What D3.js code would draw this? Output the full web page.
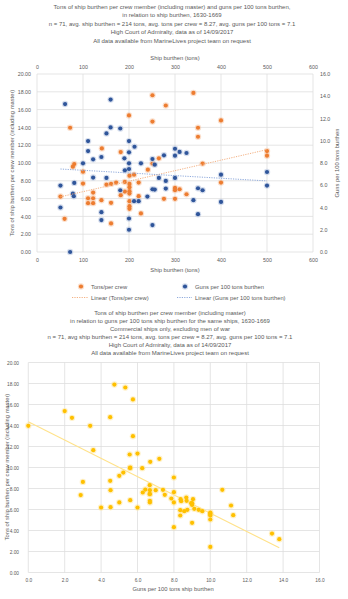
<!DOCTYPE html>
<html><head><meta charset="utf-8">
<script src="https://cdn.jsdelivr.net/npm/d3@7"></script>
<style>body{margin:0;background:#fff}svg{display:block}text{font-family:"Liberation Sans",Arial,sans-serif;fill:#595959}</style>
</head><body><svg id="c" width="348" height="599"></svg>
<script>
// ---------- data ----------
const title1 = ["Tons of ship burthen per crew member (including master) and guns per 100 tons burthen,",
  "in relation to ship burthen, 1630-1669",
  "n = 71, avg. ship burthen = 214 tons, avg. tons per crew = 8.27, avg. guns per 100 tons = 7.1",
  "High Court of Admiralty, data as of 14/09/2017",
  "All data available from MarineLives project team on request"];
const title2 = ["Tons of ship burthen per crew member (including master)",
  "in relation to guns per 100 tons ship burthen for the same ships, 1630-1669",
  "Commercial ships only, excluding men of war",
  "n = 71, avg ship burthen = 214 tons, avg. tons per crew = 8.27, avg. guns per 100 tons = 7.1",
  "High Court of Admiralty, data as of 14/09/2017",
  "All data available from MarineLives project team on request"];
const burthenTicks = [0,100,200,300,400,500,600];
const tonsTicks = [0,2,4,6,8,10,12,14,16,18,20];
const gunsTicks = [0,2,4,6,8,10,12,14,16];
const gunsTicks2 = [0,2,4,6,8,10,12,14,16];

const tonsBurthen = [72,200,251,251,280,141,182,81,78,100,100,51,60,111,111,122,122,122,140,151,161,161,161,172,182,191,191,201,201,201,201,201,201,201,201,211,221,221,226,241,251,265,276,
  340,400,350,350,360,500,500,400,300,300,300,310,325];
const tonsPerCrew = [13.96,15.34,17.61,14.66,16.46,11.64,11.23,9.89,9.59,9.03,7.69,6.23,3.73,6.04,5.49,6.04,5.49,6.68,5.82,7.57,7.65,5.52,3.21,7.8,6.38,7.87,6.79,8.58,7.65,7.28,6.83,6.57,5.71,5.15,4.85,8.69,7.8,6.27,4.33,9.25,9.93,10.52,5.97,
  17.87,14.78,13.96,12.95,9.93,11.34,10.82,7.8,7.2,6.94,5.97,7.05,6.49];

const gunsBurthen = [61,160,160,181,151,111,200,111,212,200,140,122,190,100,200,226,251,256,276,191,200,51,81,122,151,265,280,181,251,256,280,78,80,240,211,221,51,140,140,200,200,251,72,
  300,310,325,300,300,400,500,500,350,360,340,400,350];
const gunsPer100 = [13.3,13.7,11.2,11.1,10.66,9.97,9.97,9.07,9.46,8.96,8.54,8.33,8.42,7.97,7.97,7.97,8.36,7.85,8.69,7.34,7.46,5.97,6.21,6.69,6.66,6.66,6.39,5.55,5.64,5.61,5.7,5.25,5.01,4.98,4.57,4.57,4.0,3.58,2.87,3.01,2.0,2.42,0,
  9.28,9.0,8.9,8.66,6.66,6.95,7.19,5.97,5.73,5.55,4.66,4.5,3.4];

const trendTonsX = [51,500], trendTonsY = [6.2,11.5];
const trendGunsX = [51,500], trendGunsY = [7.46,6.39];

const c2Guns = [0,2.0,2.4,3.4,3.57,3.0,2.88,4.0,4.5,4.73,5.33,5.75,5.75,5.57,6.0,5.59,6.26,6.7,7.2,5.22,5.0,4.5,4.52,4.52,5.0,5.6,6.0,6.29,6.43,6.67,6.68,6.68,6.68,6.68,7.0,7.4,7.5,7.86,8.0,8.0,8.0,8.0,8.37,8.4,8.35,8.35,8.57,8.68,8.7,8.74,8.95,9.0,9.05,9.0,9.12,9.36,9.56,10.0,10.0,10.0,10.0,10.0,10.66,11.14,11.26,13.39,13.79,5.6,9.0,10.0,6.67];
const c2Tons = [13.97,15.37,14.73,13.97,11.65,8.63,7.37,6.19,14.79,17.9,17.62,16.48,12.98,11.24,11.33,9.94,9.94,10.54,10.83,9.52,9.21,8.73,7.84,6.22,6.67,6.89,6.19,7.62,7.9,8.32,7.84,7.46,6.83,6.67,7.84,7.87,7.4,7.05,9.05,7.65,6.67,4.32,6.98,6.79,5.94,5.43,5.84,7.14,6.83,5.97,6.6,6.44,6.98,4.73,6.06,5.97,5.84,5.71,5.56,5.43,5.05,2.44,7.87,6.38,5.46,3.71,3.17,10.0,6.6,5.6,7.5];
const trend2X = [0,13.79], trend2Y = [14.35,2.35];

// ---------- drawing ----------
const svg = d3.select("#c");
const ORANGE = "#ED7D31", BLUE = "#2F559A", GOLD = "#FFC000", GRID = "#dedede";

function titles(lines, y0, dy, cx){
  svg.append("g").selectAll("text").data(lines).join("text")
    .attr("x", cx).attr("y", (d,i)=>y0+i*dy).attr("text-anchor","middle")
    .attr("font-size", 6).text(d=>d);
}
function dots(g, xs, ys, x, y, col, halo){
  const d = xs.map((v,i)=>[v, ys[i]]);
  g.append("g").selectAll("circle").data(d).join("circle")
    .attr("cx", p=>x(p[0])).attr("cy", p=>y(p[1])).attr("r", 3.2)
    .attr("fill", halo).attr("opacity", 0.55);
  g.append("g").selectAll("circle").data(d).join("circle")
    .attr("cx", p=>x(p[0])).attr("cy", p=>y(p[1])).attr("r", 2.1)
    .attr("fill", col);
}
function styleAxis(g){
  g.select(".domain").remove();
  g.selectAll(".tick line").remove();
  g.selectAll("text").attr("font-size", 5.3).attr("fill", "#595959");
}

// Chart 1
titles(title1, 9, 8.4, 172);
const x1 = d3.scaleLinear().domain([0,600]).range([37,313]);
const y1 = d3.scaleLinear().domain([0,20]).range([252,74]);
const y1r = d3.scaleLinear().domain([0,16]).range([252,74]);
const g1 = svg.append("g");
g1.append("g").selectAll("line").data(tonsTicks).join("line")
  .attr("x1",37).attr("x2",313).attr("y1",d=>y1(d)).attr("y2",d=>y1(d)).attr("stroke",GRID).attr("stroke-width",0.8);
g1.append("g").selectAll("line").data(burthenTicks).join("line")
  .attr("y1",74).attr("y2",252).attr("x1",d=>x1(d)).attr("x2",d=>x1(d)).attr("stroke",GRID).attr("stroke-width",0.8);
styleAxis(g1.append("g").attr("transform","translate(0,71.5)").call(d3.axisTop(x1).tickValues(burthenTicks).tickFormat(d3.format("d")).tickSize(0)));
styleAxis(g1.append("g").attr("transform","translate(0,255.5)").call(d3.axisBottom(x1).tickValues(burthenTicks).tickFormat(d3.format("d")).tickSize(0)));
styleAxis(g1.append("g").attr("transform","translate(34,0)").call(d3.axisLeft(y1).tickValues(tonsTicks).tickFormat(d3.format(".2f")).tickSize(0)));
styleAxis(g1.append("g").attr("transform","translate(317,0)").call(d3.axisRight(y1r).tickValues(gunsTicks).tickFormat(d3.format(".1f")).tickSize(0)));
g1.append("text").attr("x",175).attr("y",60).attr("text-anchor","middle").attr("font-size",5.8).text("Ship burthen (tons)");
g1.append("text").attr("x",175).attr("y",272).attr("text-anchor","middle").attr("font-size",5.8).text("Ship burthen (tons)");
g1.append("text").attr("transform","translate(14,163) rotate(-90)").attr("text-anchor","middle").attr("font-size",5.8).text("Tons of ship burthen per crew member (including master)");
g1.append("text").attr("transform","translate(339,163) rotate(-90)").attr("text-anchor","middle").attr("font-size",5.8).text("Guns per 100 tons burthen");
dots(g1, tonsBurthen, tonsPerCrew, x1, y1, ORANGE, "#f8c7a6");
dots(g1, gunsBurthen, gunsPer100, x1, y1r, BLUE, "#b4c3de");
const line1 = d3.line();
g1.append("path").attr("d", line1(trendTonsX.map((v,i)=>[x1(v), y1(trendTonsY[i])]))).attr("stroke","#F4B183").attr("stroke-width",1).attr("stroke-dasharray","1.2,1.2").attr("fill","none");
g1.append("path").attr("d", line1(trendGunsX.map((v,i)=>[x1(v), y1r(trendGunsY[i])]))).attr("stroke","#8FAADC").attr("stroke-width",1).attr("stroke-dasharray","1.2,1.2").attr("fill","none");
// legend
const lg = svg.append("g");
lg.append("circle").attr("cx",81).attr("cy",286.5).attr("r",3.2).attr("fill","#f8c7a6").attr("opacity",0.55);
lg.append("circle").attr("cx",81).attr("cy",286.5).attr("r",2.1).attr("fill",ORANGE);
lg.append("text").attr("x",91).attr("y",288.5).attr("font-size",5.8).text("Tons/per crew");
lg.append("circle").attr("cx",185).attr("cy",286.5).attr("r",3.2).attr("fill","#b4c3de").attr("opacity",0.55);
lg.append("circle").attr("cx",185).attr("cy",286.5).attr("r",2.1).attr("fill",BLUE);
lg.append("text").attr("x",195).attr("y",288.5).attr("font-size",5.8).text("Guns per 100 tons burthen");
lg.append("line").attr("x1",72).attr("x2",88).attr("y1",297.5).attr("y2",297.5).attr("stroke","#F4B183").attr("stroke-width",1).attr("stroke-dasharray","1.2,1.2");
lg.append("text").attr("x",91).attr("y",299.5).attr("font-size",5.8).text("Linear (Tons/per crew)");
lg.append("line").attr("x1",177).attr("x2",192).attr("y1",297.5).attr("y2",297.5).attr("stroke","#8FAADC").attr("stroke-width",1).attr("stroke-dasharray","1.2,1.2");
lg.append("text").attr("x",195).attr("y",299.5).attr("font-size",5.8).text("Linear (Guns per 100 tons burthen)");

// Chart 2
titles(title2, 315, 8, 170);
const x2 = d3.scaleLinear().domain([0,16]).range([28.3,319.5]);
const y2 = d3.scaleLinear().domain([0,20]).range([572.5,362.5]);
const g2 = svg.append("g");
g2.append("g").selectAll("line").data(tonsTicks).join("line")
  .attr("x1",28.3).attr("x2",319.5).attr("y1",d=>y2(d)).attr("y2",d=>y2(d)).attr("stroke",GRID).attr("stroke-width",0.8);
g2.append("g").selectAll("line").data(gunsTicks2).join("line")
  .attr("y1",362.5).attr("y2",572.5).attr("x1",d=>x2(d)).attr("x2",d=>x2(d)).attr("stroke",GRID).attr("stroke-width",0.8);
styleAxis(g2.append("g").attr("transform","translate(0,576)").call(d3.axisBottom(x2).tickValues(gunsTicks2).tickFormat(d3.format(".1f")).tickSize(0)));
styleAxis(g2.append("g").attr("transform","translate(22,0)").call(d3.axisLeft(y2).tickValues(tonsTicks).tickFormat(d3.format(".2f")).tickSize(0)));
g2.selectAll("text").attr("font-size",4.8);
g2.append("text").attr("x",173).attr("y",590.5).attr("text-anchor","middle").attr("font-size",5.8).text("Guns per  100 tons ship burthen");
g2.append("text").attr("transform","translate(9,467) rotate(-90)").attr("text-anchor","middle").attr("font-size",5.8).text("Tons of ship burthen per crew member (including master)");
g2.append("path").attr("d", line1(trend2X.map((v,i)=>[x2(v), y2(trend2Y[i])]))).attr("stroke","#FFE28A").attr("stroke-width",1.1).attr("fill","none");
dots(g2, c2Guns, c2Tons, x2, y2, GOLD, "#ffe699");
</script></body></html>
